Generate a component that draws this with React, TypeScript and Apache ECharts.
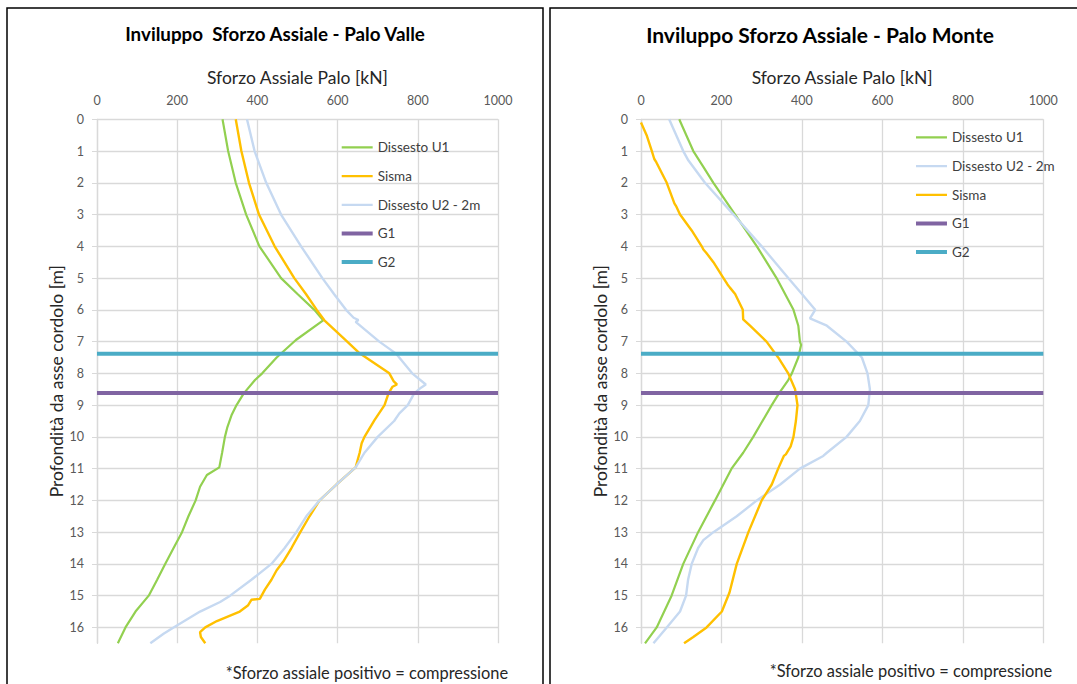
import React, { useEffect, useRef } from "react";
import * as echarts from "echarts";

// ---------- Palo Valle (left) ----------
const valleU1Depth = [0, 1, 2, 3, 4, 5, 5.5, 6, 6.33, 6.95, 7.5, 8.0, 8.21, 8.63, 9, 9.3, 9.7, 10, 10.5, 10.96, 11.2, 11.57, 12, 12.5, 13, 13.5, 14, 14.5, 15, 15.5, 16, 16.5];
const valleU1Force = [313, 327, 346, 372, 405, 459, 500, 542, 564, 496, 448, 412, 394, 366, 348, 336, 325, 319, 312, 305, 274, 257, 246, 228, 212, 191, 170, 150, 129, 96, 71, 52];

const valleSismaDepth = [0, 1, 2, 3, 4, 5, 5.5, 6, 6.33, 6.95, 7.37, 8.0, 8.25, 8.35, 8.42, 8.63, 9, 9.47, 10, 10.2, 10.5, 10.96, 11.5, 12, 12.5, 13, 13.5, 13.9, 14.2, 14.5, 14.8, 15.1, 15.13, 15.3, 15.5, 15.8, 16.0, 16.15, 16.3, 16.5];
const valleSismaForce = [346, 360, 379, 404, 443, 492, 521, 548, 567, 620, 655, 729, 740, 748, 737, 727, 717, 692, 667, 660, 655, 645, 597, 555, 530, 507, 485, 466, 448, 435, 419, 406, 385, 377, 356, 299, 270, 257, 259, 270];

const valleU2Depth = [0, 1, 2, 3, 4, 5, 5.5, 6, 6.25, 6.32, 6.38, 7.0, 7.37, 8.0, 8.35, 8.45, 8.63, 9, 9.26, 9.5, 10, 10.5, 10.96, 11.5, 12, 12.5, 13, 13.5, 14, 14.5, 15, 15.2, 15.5, 16, 16.2, 16.5];
const valleU2Force = [374, 393, 422, 459, 509, 562, 591, 621, 640, 652, 645, 704, 745, 786, 820, 808, 791, 775, 754, 741, 700, 667, 645, 597, 555, 522, 497, 468, 435, 385, 332, 307, 257, 191, 166, 133];

// ---------- Palo Monte (right) ----------
const monteU1Depth = [0, 1, 1.5, 2, 3, 4, 5, 6, 6.5, 7, 7.1, 7.5, 8, 8.21, 8.63, 9, 10, 10.5, 11, 12, 13, 14, 15, 16, 16.5];
const monteU1Force = [95, 130, 155, 180, 234, 288, 337, 379, 391, 395, 398, 391, 375, 366, 343, 325, 279, 254, 225, 184, 142, 105, 76, 39, 10];

const monteU2Depth = [0, 1, 1.3, 2, 3, 4, 5, 5.5, 6, 6.27, 6.5, 7, 7.5, 8, 8.5, 9, 9.5, 10, 10.5, 10.6, 11, 11.5, 12, 12.5, 13, 13.25, 13.5, 14, 14.5, 15, 15.5, 16, 16.5];
const monteU2Force = [70, 105, 118, 159, 230, 300, 366, 400, 433, 420, 462, 511, 549, 563, 569, 565, 544, 511, 462, 453, 395, 346, 288, 238, 180, 155, 142, 126, 117, 112, 97, 64, 31];

const monteSismaDepth = [0.1, 0.5, 1, 1.25, 1.35, 2, 2.65, 2.75, 3, 3.5, 4, 4.1, 4.2, 4.5, 5, 5.2, 5.3, 5.5, 6, 6.3, 6.5, 7, 7.5, 8, 8.5, 9, 9.5, 10, 10.3, 10.55, 10.6, 11, 11.5, 12, 13, 14, 14.9, 15.5, 16, 16.3, 16.5];
const monteSismaForce = [0, 14, 27, 33, 38, 64, 83, 88, 97, 126, 151, 155, 162, 180, 205, 215, 221, 234, 253, 254, 271, 312, 341, 366, 383, 389, 385, 379, 372, 360, 355, 341, 325, 300, 267, 238, 220, 201, 163, 130, 107];

// Reference levels (depth, m)
const levelG1 = 8.62;
const levelG2 = 7.38;
const forceRange = [0, 1000];

const valleLegend = ["Dissesto U1", "Sisma", "Dissesto U2 - 2m", "G1", "G2"];
const monteLegend = ["Dissesto U1", "Dissesto U2 - 2m", "Sisma", "G1", "G2"];

const titleValle = "Inviluppo  Sforzo Assiale - Palo Valle";
const titleMonte = "Inviluppo Sforzo Assiale - Palo Monte";
const xName = "Sforzo Assiale Palo [kN]";
const yName = "Profondità da asse cordolo [m]";
const footnote = "*Sforzo assiale positivo = compressione";

const FONT = "Lato, 'Open Sans', sans-serif";
const C_U1 = "#92D050";
const C_SISMA = "#FFC000";
const C_U2 = "#C6D9F1";
const C_G1 = "#8064A2";
const C_G2 = "#4BACC6";

// legend icons: a thin bar centred in a 31x14 box (tiny corner specks fix the bounding box)
const ICON_THIN = "path://M0,0H0.5V0.01H0Z M0,6H31V8.2H0Z M30.5,14H31V14.01H30.5Z";
const ICON_THICK = "path://M0,0H0.5V0.01H0Z M0,5H31V9H0Z M30.5,14H31V14.01H30.5Z";

const pairs = (f: number[], d: number[]) => f.map((v, i) => [v, d[i]]);
const level = (d: number) => forceRange.map((v) => [v, d]);

function App() {
  const ref = useRef<HTMLDivElement>(null);
  useEffect(() => {
    if (!ref.current) return;
    const chart = echarts.init(ref.current, undefined, { renderer: "svg" });

    const mkX = (gi: number) => ({
      gridIndex: gi,
      type: "value",
      position: "top",
      min: 0,
      max: 1000,
      interval: 200,
      axisLine: { show: false },
      axisTick: { show: false },
      axisLabel: { color: "#595959", fontSize: 12.5, margin: 12, fontFamily: FONT, formatter: (v: number) => String(v) },
      splitLine: { show: true, lineStyle: { color: "#D9D9D9", width: 1.3 } },
      name: xName,
      nameLocation: "middle",
      nameGap: 33,
      nameTextStyle: { color: "#262626", fontSize: 17.5, fontFamily: FONT },
    });
    const mkY = (gi: number) => ({
      gridIndex: gi,
      type: "value",
      inverse: true,
      min: 0,
      max: 16.5,
      interval: 1,
      axisLine: { show: true, lineStyle: { color: "#D9D9D9", width: 1.3 } },
      axisTick: { show: true, length: 5, lineStyle: { color: "#D9D9D9" } },
      axisLabel: { color: "#595959", fontSize: 12.5, margin: 13, fontFamily: FONT, showMaxLabel: false },
      splitLine: { show: true, showMaxLine: false, lineStyle: { color: "#D9D9D9", width: 1.3 } },
      name: yName,
      nameLocation: "middle",
      nameGap: 31,
      nameRotate: 90,
      nameTextStyle: { color: "#262626", fontSize: 17.5, fontFamily: FONT },
    });

    const line = (name: string, data: number[][], color: string, width: number, gi: number) => ({
      name,
      type: "line",
      xAxisIndex: gi,
      yAxisIndex: gi,
      data,
      symbol: "none",
      smooth: false,
      lineStyle: { color, width },
      itemStyle: { color },
      z: name.startsWith("G") ? 3 : 2,
    });

    const legendCommon = {
      orient: "vertical",
      padding: 0,
      itemWidth: 31,
      itemHeight: 14,
      itemGap: 14.7,
      textStyle: { color: "#404040", fontSize: 13.5, fontFamily: FONT, lineHeight: 14 },
      selectedMode: false,
    };
    const legendData = (names: string[]) =>
      names.map((n) => ({ name: n, icon: n.startsWith("G") ? ICON_THICK : ICON_THIN }));

    const txt = (text: string, x: number, y: number, size: number, bold: boolean) => ({
      type: "text",
      x,
      y,
      silent: true,
      style: {
        text,
        fill: bold ? "#000000" : "#262626",
        font: `${bold ? "bold " : ""}${size}px ${FONT}`,
        textAlign: "center",
        textVerticalAlign: "middle",
        align: "center",
        verticalAlign: "middle",
      },
    });

    chart.setOption({
      animation: false,
      backgroundColor: "#ffffff",
      grid: [
        { left: 97, top: 119.3, width: 401, height: 524 },
        { left: 641, top: 119.3, width: 402.3, height: 524 },
      ],
      xAxis: [mkX(0), mkX(1)],
      yAxis: [mkY(0), mkY(1)],
      legend: [
        { ...legendCommon, data: legendData(valleLegend), left: 341.7, top: 140.3 },
        { ...legendCommon, data: legendData(monteLegend), left: 916, top: 130.3 },
      ],
      graphic: [
        { type: "rect", shape: { x: 7, y: 8, width: 536, height: 720 }, style: { fill: "none", stroke: "#000", lineWidth: 1.5 }, silent: true },
        { type: "rect", shape: { x: 550, y: 8, width: 560, height: 720 }, style: { fill: "none", stroke: "#000", lineWidth: 1.5 }, silent: true },
        txt(titleValle, 275, 33, 18.8, true),
        txt(titleMonte, 820, 34, 21, true),
        txt(footnote, 367, 672, 16.4, false),
        txt(footnote, 911, 670, 16.4, false),
      ],
      series: [
        line("Dissesto U1", pairs(valleU1Force, valleU1Depth), C_U1, 2.2, 0),
        line("Sisma", pairs(valleSismaForce, valleSismaDepth), C_SISMA, 2.4, 0),
        line("Dissesto U2 - 2m", pairs(valleU2Force, valleU2Depth), C_U2, 2.4, 0),
        line("G1", level(levelG1), C_G1, 4, 0),
        line("G2", level(levelG2), C_G2, 4, 0),
        line("Dissesto U1", pairs(monteU1Force, monteU1Depth), C_U1, 2.2, 1),
        line("Dissesto U2 - 2m", pairs(monteU2Force, monteU2Depth), C_U2, 2.4, 1),
        line("Sisma", pairs(monteSismaForce, monteSismaDepth), C_SISMA, 2.4, 1),
        line("G1", level(levelG1), C_G1, 4, 1),
        line("G2", level(levelG2), C_G2, 4, 1),
      ],
    });
    return () => chart.dispose();
  }, []);

  return (
    <div
      ref={ref}
      style={{ position: "fixed", left: 0, top: 0, width: 1077, height: 684, background: "#fff" }}
    />
  );
}

export default App;
